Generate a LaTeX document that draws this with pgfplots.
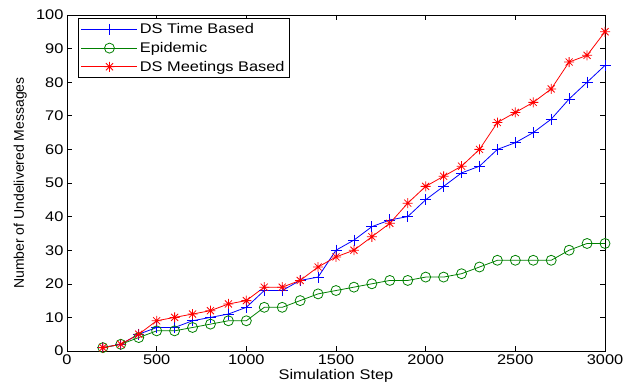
\documentclass[border=0pt]{standalone}
\usepackage{fontspec}
\setmainfont{Liberation Sans}[FakeStretch=1.17]
\newfontfamily\ylabfont{Liberation Sans}
\usepackage{pgfplots}
\pgfplotsset{compat=1.18}
\usepackage{pgfplotstable}

\pgfdeclareplotmark{mstar}{%
  \pgfpathmoveto{\pgfqpoint{\pgfplotmarksize}{0pt}}%
  \pgfpathlineto{\pgfqpoint{-\pgfplotmarksize}{0pt}}%
  \pgfpathmoveto{\pgfqpoint{0pt}{\pgfplotmarksize}}%
  \pgfpathlineto{\pgfqpoint{0pt}{-\pgfplotmarksize}}%
  \pgfpathmoveto{\pgfqpoint{0.707\pgfplotmarksize}{0.707\pgfplotmarksize}}%
  \pgfpathlineto{\pgfqpoint{-0.707\pgfplotmarksize}{-0.707\pgfplotmarksize}}%
  \pgfpathmoveto{\pgfqpoint{0.707\pgfplotmarksize}{-0.707\pgfplotmarksize}}%
  \pgfpathlineto{\pgfqpoint{-0.707\pgfplotmarksize}{0.707\pgfplotmarksize}}%
  \pgfusepathqstroke}

\pgfplotstableread{
x time epi meet
200 1 1 1
300 2 2 2
400 5 4 5
500 7 6 9
600 7 6 10
700 9 7 11
800 10 8 12
900 11 9 14
1000 13 9 15
1100 18 13 19
1200 18 13 19
1300 21 15 21
1400 22 17 25
1500 30 18 28
1600 33 19 30
1700 37 20 34
1800 39 21 38
1900 40 21 44
2000 45 22 49
2100 49 22 52
2200 53 23 55
2300 55 25 60
2400 60 27 68
2500 62 27 71
2600 65 27 74
2700 69 27 78
2800 75 30 86
2900 80 32 88
3000 85 32 95
}\data

\definecolor{mblue}{rgb}{0,0,1}
\definecolor{mgreen}{rgb}{0,0.5,0}
\definecolor{mred}{rgb}{1,0,0}

\begin{document}
\begin{tikzpicture}
\begin{axis}[
  scale only axis, width=538pt, height=336pt,
  xmin=0, xmax=3000, ymin=0, ymax=100,
  xtick={0,500,...,3000}, ytick={0,10,...,100},
  tick align=inside, major tick length=5pt,
  axis line style={line width=0.9pt},
  every tick/.style={black, line width=0.6pt},
  /pgf/number format/assume math mode=true,
  /pgf/number format/1000 sep={},
  tick label style={font=\fontsize{14}{16}\selectfont},
  label style={font=\fontsize{14}{16}\selectfont},
  xlabel={Simulation Step},
  ylabel={\ylabfont Number of Undelivered Messages},
  xlabel style={yshift=1.5pt},
  ylabel style={yshift=2.5pt},
  legend style={at={(0.02,0.99)}, anchor=north west, font=\fontsize{14}{16}\selectfont,
    draw=black, line width=0.6pt, inner sep=3pt, row sep=3pt},
  legend cell align=left,
  legend image code/.code={\draw[mark repeat=2,mark phase=2] plot coordinates {(0pt,0pt) (28pt,0pt) (56pt,0pt)};},
]
\addplot[mblue, line width=0.8pt, mark=+, mark size=5.5pt] table[x=x,y=time] {\data};
\addlegendentry{DS Time Based}
\addplot[mgreen, line width=0.8pt, mark=o, mark size=5pt] table[x=x,y=epi] {\data};
\addlegendentry{Epidemic}
\addplot[mred, line width=0.8pt, mark=mstar, mark size=5pt] table[x=x,y=meet] {\data};
\addlegendentry{DS Meetings Based}
\end{axis}
\pgfresetboundingbox
\path[use as bounding box] ([shift={(-67pt,-34pt)}]current axis.south west) rectangle ([shift={(19pt,15pt)}]current axis.north east);
\end{tikzpicture}
\end{document}
